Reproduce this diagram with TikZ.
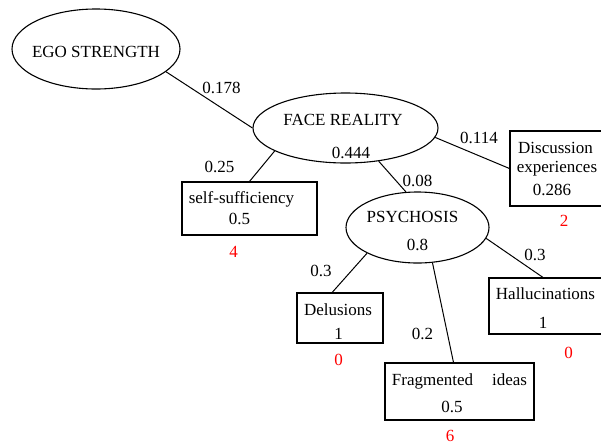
\documentclass[tikz,border=0pt]{standalone}
\usepackage{fontspec}
\setmainfont{Liberation Serif}
\usetikzlibrary{shapes.geometric,calc}
\begin{document}
\begin{tikzpicture}[x=1pt,y=-1pt,
  every node/.style={font=\fontsize{17}{20}\selectfont},
  oval/.style={draw, ellipse, line width=1.1pt, inner sep=0pt},
  leaf/.style={draw, rectangle, line width=1.1pt, inner sep=0pt},
  txt/.style={anchor=base, inner sep=0pt},
  cnt/.style={txt, text=red},
  link/.style={line width=1pt}]
\useasboundingbox (0,0) rectangle (601,445);
\clip (0,0) rectangle (601,445);

% concept ovals
\node[oval, minimum width=168pt, minimum height=80pt] (ego)  at (96,49) {};
\node[oval, minimum width=185pt, minimum height=70pt] (face) at (345.5,128) {};
\node[oval, minimum width=143pt, minimum height=71pt] (psy)  at (417.5,227.5) {};

% leaf boxes
\node[leaf, minimum width=135pt, minimum height=53pt] (self) at (249.5,208.5) {};
\node[leaf, minimum width=94pt,  minimum height=75pt] (disc) at (557,168.5) {};
\node[leaf, minimum width=86pt,  minimum height=50pt] (delu) at (340,318) {};
\node[leaf, minimum width=149pt, minimum height=57pt] (frag) at (459.5,391.5) {};
\node[leaf, minimum width=115pt, minimum height=56pt] (hall) at (546.5,306) {};

% connectors
\draw[link] (ego.-18) -- (face.west);
\draw[link] (face.198) -- (self.north);
\draw[link] (face.-45) -- (psy.108);
\draw[link] (face.-6) -- (disc.west);
\draw[link] (psy.-153) -- ($(delu.north west)!0.41!(delu.north east)$);
\draw[link] (psy.-67) -- ($(frag.north west)!0.46!(frag.north east)$);
\draw[link] (psy.-9) -- ($(hall.north west)!0.47!(hall.north east)$);

% oval texts
\node[txt] (tego)  at (96,57) {EGO STRENGTH};
\node[txt] (tface) at (343,125) {FACE REALITY};
\node[txt] (vface) at (351,158) {0.444};
\node[txt] (tpsy)  at (412.5,222) {PSYCHOSIS};
\node[txt] (vpsy)  at (417.5,250) {0.8};

% weights on connectors
\node[txt] (w1) at (221.5,93) {0.178};
\node[txt] (w2) at (219.5,172) {0.25};
\node[txt] (w3) at (417.5,186) {0.08};
\node[txt] (w4) at (479,143) {0.114};
\node[txt] (w5) at (321,276) {0.3};
\node[txt] (w6) at (422.5,339) {0.2};
\node[txt] (w7) at (535,260) {0.3};

% box texts
\node[txt] (tself) at (241.5,203) {self-sufficiency};
\node[txt] (vself) at (239.5,224) {0.5};
\node[txt] (tdisc1) at (555.5,153) {Discussion};
\node[txt] (tdisc2) at (557,172) {experiences};
\node[txt] (vdisc) at (552,195) {0.286};
\node[txt] (tdelu) at (338,315) {Delusions};
\node[txt] (vdelu) at (338.5,339) {1};
\node[txt] (tfrag) at (459.5,385) {Fragmented\hspace{19pt}ideas};
\node[txt] (vfrag) at (452,412) {0.5};
\node[txt] (thall) at (545.5,299) {Hallucinations};
\node[txt] (vhall) at (543,328) {1};

% counts below boxes
\node[cnt] (cself) at (233.5,257) {4};
\node[cnt] (cdisc) at (564,226) {2};
\node[cnt] (cdelu) at (338.5,365) {0};
\node[cnt] (cfrag) at (450,441.5) {6};
\node[cnt] (chall) at (568.5,358) {0};
\end{tikzpicture}
\end{document}
